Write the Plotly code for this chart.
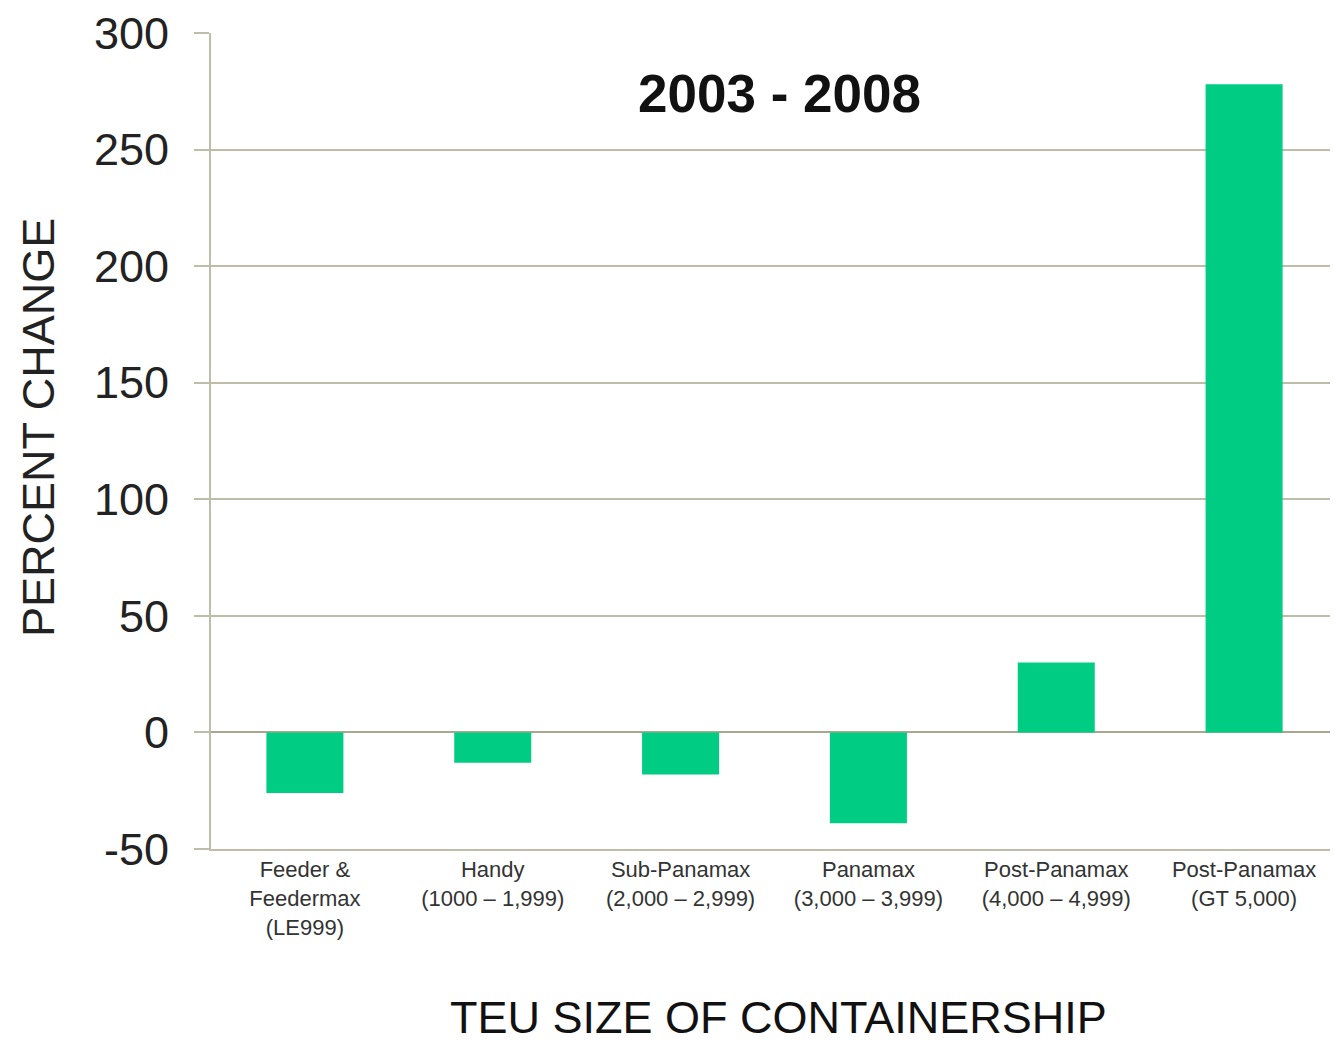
import plotly.graph_objects as go

categories = [
    "Feeder &<br>Feedermax<br>(LE999)",
    "Handy<br>(1000 – 1,999)",
    "Sub-Panamax<br>(2,000 – 2,999)",
    "Panamax<br>(3,000 – 3,999)",
    "Post-Panamax<br>(4,000 – 4,999)",
    "Post-Panamax<br>(GT 5,000)",
]
percent_change = [-26, -13, -18, -39, 30, 278]
y_ticks = [-50, 0, 50, 100, 150, 200, 250, 300]
y_tick_text = ["-50", "0", "50", "100", "150", "200", "250", "300"]

grid_color = "#BDBDA9"
font_family = "Liberation Sans, Arial, sans-serif"

# page body has an 8px margin; figure sized to fill the 1338x1043 window
W, H = 1330, 1035
L, T, R, B = 203, 25, 0, 194

fig = go.Figure(
    go.Bar(
        x=categories,
        y=percent_change,
        marker=dict(color="#00CC84", line=dict(width=0)),
        width=0.41,
    )
)


def px_x(px):
    return (px - 8 - L) / (W - L - R)


def px_y(py):
    return 1 - (py - 8 - T) / (H - T - B)


fig.update_layout(
    width=W,
    height=H,
    margin=dict(l=L, r=R, t=T, b=B),
    paper_bgcolor="white",
    plot_bgcolor="white",
    showlegend=False,
    font=dict(family=font_family, color="#222222"),
    annotations=[
        dict(
            text="<b>2003 - 2008</b>",
            x=px_x(779), y=px_y(94), xref="paper", yref="paper",
            xanchor="center", yanchor="middle",
            showarrow=False, font=dict(size=53, color="#111111", family=font_family),
        ),
        dict(
            text="TEU SIZE OF CONTAINERSHIP",
            x=px_x(778), y=px_y(1017), xref="paper", yref="paper",
            xanchor="center", yanchor="middle",
            showarrow=False, font=dict(size=45, color="#111111", family=font_family),
        ),
        dict(
            text="PERCENT CHANGE",
            x=px_x(38), y=px_y(428), xref="paper", yref="paper",
            xanchor="center", yanchor="middle", textangle=-90,
            showarrow=False, font=dict(size=45, color="#222222", family=font_family),
        ),
    ],
)

fig.update_xaxes(
    showgrid=False,
    showline=True,
    linecolor=grid_color,
    linewidth=2,
    ticks="",
    tickfont=dict(size=22, color="#333333"),
    automargin=False,
)

fig.update_yaxes(
    range=[-50, 300],
    tickvals=y_ticks,
    ticktext=y_tick_text,
    showgrid=True,
    gridcolor=grid_color,
    gridwidth=2,
    zeroline=True,
    zerolinecolor="#A8A890",
    zerolinewidth=2,
    showline=True,
    linecolor=grid_color,
    linewidth=2,
    ticks="outside",
    ticklen=15,
    tickcolor=grid_color,
    tickwidth=2,
    ticklabelstandoff=16,
    ticklabeloverflow="allow",
    tickfont=dict(size=45, color="#222222"),
    automargin=False,
)

fig.write_html("out.html")
